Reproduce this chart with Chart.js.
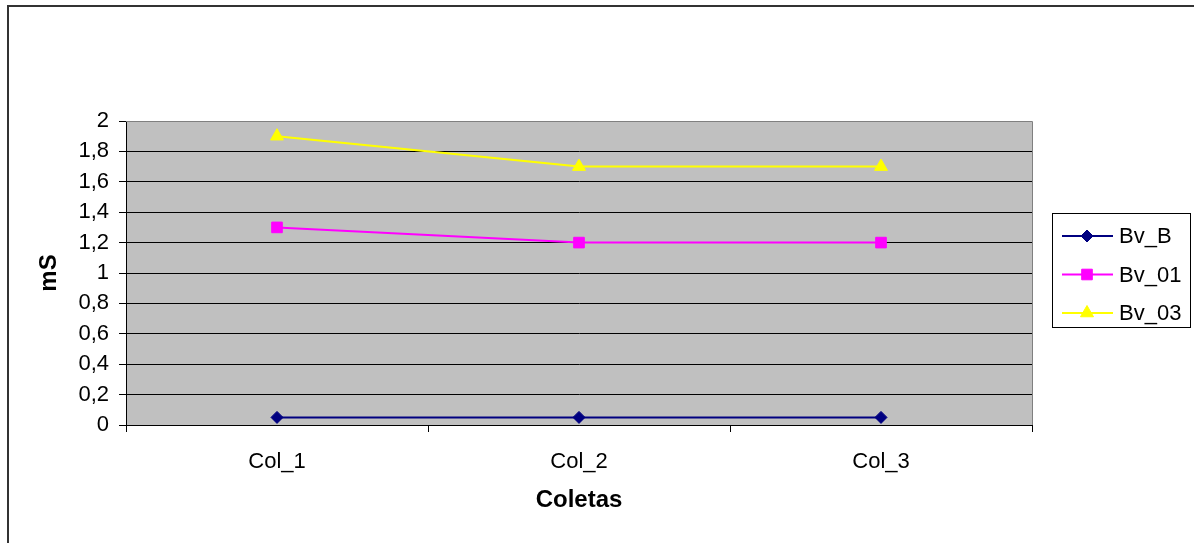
<!DOCTYPE html>
<html>
<head>
    <title>mS por coleta</title>
    <script src="https://cdn.jsdelivr.net/npm/chart.js"></script>
    <style>
        body { margin: 0; background: #fff; }
    </style>
</head>
<body>
    <div style="width: 1194px; height: 543px;">
        <canvas id="msChart"></canvas>
    </div>

    <script>
        // values
        const categories = ['Col_1', 'Col_2', 'Col_3'];
        const bvB = [0.05, 0.05, 0.05];
        const bv01 = [1.3, 1.2, 1.2];
        const bv03 = [1.9, 1.7, 1.7];

        const fontFamily = '"Liberation Sans", Arial, sans-serif';

        // gray plot background, plot frame and the outer chart border
        const framePlugin = {
            id: 'frame',
            beforeDraw(chart) {
                const { ctx, chartArea: a } = chart;
                ctx.save();
                ctx.fillStyle = '#c0c0c0';
                ctx.fillRect(a.left, a.top, a.right - a.left, a.bottom - a.top);
                ctx.restore();
            },
            afterDraw(chart) {
                const { ctx, chartArea: a } = chart;
                ctx.save();
                ctx.strokeStyle = '#808080';
                ctx.lineWidth = 1;
                ctx.beginPath();
                ctx.moveTo(a.left, a.top + 0.5);
                ctx.lineTo(a.right + 0.5, a.top + 0.5);
                ctx.lineTo(a.right + 0.5, a.bottom);
                ctx.stroke();

                ctx.strokeStyle = '#333';
                ctx.lineWidth = 2;
                ctx.strokeRect(8, 6, 1300, 700);

                // legend box with line + marker samples
                const bx = 1052, by = 213, bw = 138, bh = 114;
                ctx.fillStyle = '#fff';
                ctx.fillRect(bx, by, bw, bh);
                ctx.strokeStyle = '#000';
                ctx.lineWidth = 1;
                ctx.strokeRect(bx + 0.5, by + 0.5, bw, bh);
                chart.data.datasets.forEach((ds, i) => {
                    const y = 236 + i * 38.5;
                    ctx.strokeStyle = ds.borderColor;
                    ctx.fillStyle = ds.borderColor;
                    ctx.lineWidth = 2;
                    ctx.beginPath();
                    ctx.moveTo(1062, y);
                    ctx.lineTo(1113, y);
                    ctx.stroke();
                    ctx.lineWidth = 1;
                    Chart.helpers.drawPoint(ctx, {
                        pointStyle: ds.pointStyle,
                        radius: ds.pointRadius,
                        borderWidth: 1
                    }, 1087, y);
                    ctx.fillStyle = '#000';
                    ctx.font = '22px ' + fontFamily;
                    ctx.textBaseline = 'middle';
                    ctx.fillText(ds.label, 1119, y + 1);
                });
                ctx.restore();
            }
        };

        function series(label, data, color, style, radius) {
            return {
                label: label,
                data: data,
                borderColor: color,
                backgroundColor: color,
                pointBackgroundColor: color,
                pointBorderColor: color,
                pointStyle: style,
                pointRadius: radius,
                pointBorderWidth: 1,
                borderWidth: 2,
                tension: 0,
                fill: false
            };
        }

        new Chart(document.getElementById('msChart').getContext('2d'), {
            type: 'line',
            data: {
                labels: categories,
                datasets: [
                    series('Bv_B', bvB, '#000080', 'rectRot', 6),
                    series('Bv_01', bv01, '#ff00ff', 'rect', 7.5),
                    series('Bv_03', bv03, '#ffff00', 'triangle', 7.5)
                ]
            },
            options: {
                responsive: true,
                maintainAspectRatio: false,
                animation: false,
                layout: { padding: { left: 0, top: 121, right: 162, bottom: 0 } },
                plugins: {
                    legend: { display: false },
                    tooltip: { enabled: false }
                },
                scales: {
                    x: {
                        offset: true,
                        afterFit(scale) { scale.height = 118; },
                        grid: {
                            offset: true,
                            drawOnChartArea: false,
                            color: '#000',
                            tickLength: 7
                        },
                        border: { color: '#000', width: 1 },
                        ticks: {
                            color: '#000',
                            padding: 17,
                            font: { family: fontFamily, size: 22 }
                        },
                        title: {
                            display: true,
                            text: 'Coletas',
                            color: '#000',
                            padding: { top: 0, bottom: 28 },
                            font: { family: fontFamily, size: 24, weight: 'bold' }
                        }
                    },
                    y: {
                        min: 0,
                        max: 2,
                        afterFit(scale) { scale.width = 126; },
                        grid: {
                            color: (c) => c.tick && c.tick.value === 2 ? '#808080' : '#000',
                            tickColor: '#000',
                            tickLength: 7
                        },
                        border: { color: '#000', width: 1 },
                        ticks: {
                            stepSize: 0.2,
                            color: '#000',
                            padding: 10,
                            font: { family: fontFamily, size: 22 },
                            callback: (v) => String(Math.round(v * 10) / 10).replace('.', ',')
                        },
                        title: {
                            display: true,
                            text: 'mS',
                            color: '#000',
                            padding: { top: 35, bottom: 0 },
                            font: { family: fontFamily, size: 24, weight: 'bold' }
                        }
                    }
                }
            },
            plugins: [framePlugin]
        });
    </script>
</body>
</html>
